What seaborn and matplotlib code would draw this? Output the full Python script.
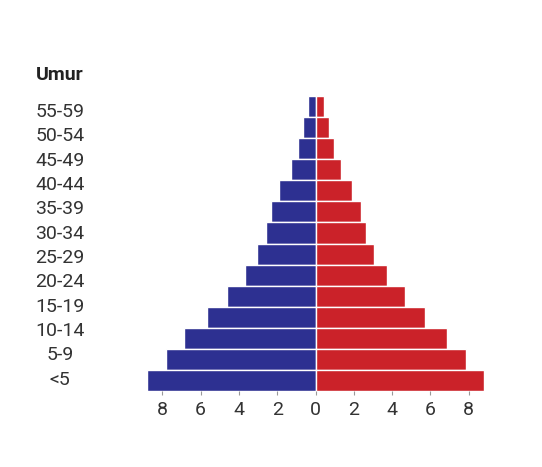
import numpy as np
import pandas as pd
import matplotlib
matplotlib.use('Agg')
import matplotlib.pyplot as plt
import seaborn as sns

# age labels (as printed on the chart, bottom to top)
umur = ['<5', '5-9', '10-14', '15-19', '20-24', '25-29', '30-34',
        '35-39', '40-44', '45-49', '50-54', '55-59']

# bar values, bottom bar first (the chart draws 14 bars)
laki = [8.78, 7.82, 6.85, 5.68, 4.64, 3.68, 3.04,
        2.58, 2.34, 1.89, 1.30, 0.91, 0.65, 0.41]
perempuan = [8.81, 7.86, 6.88, 5.72, 4.69, 3.73, 3.07,
             2.65, 2.39, 1.92, 1.35, 0.98, 0.70, 0.46]

xticks = [-8, -6, -4, -2, 0, 2, 4, 6, 8]

biru = '#2d3091'
merah = '#cb2229'

sns.set_style('white')
plt.rcParams['font.family'] = ['Roboto', 'DejaVu Sans']

n = len(laki)
df = pd.DataFrame({
    'grup': [str(i) for i in range(n)][::-1],
    'laki': [-v for v in laki][::-1],
    'perempuan': perempuan[::-1],
})
order = df['grup'].tolist()

fig = plt.figure(figsize=(5.42, 4.67), dpi=100)
ax = fig.add_axes([146/542, 1-391/467, 339/542, 295/467])

sns.barplot(data=df, y='grup', x='laki', order=order, orient='h',
            color=biru, saturation=1, width=1, edgecolor='white',
            linewidth=1, ax=ax)
sns.barplot(data=df, y='grup', x='perempuan', order=order, orient='h',
            color=merah, saturation=1, width=1, edgecolor='white',
            linewidth=1, ax=ax)

ax.set_xlim(-8.85, 8.85)
ax.set_ylim(n - 0.5, -0.5)
ax.set_xticks(xticks)
ax.set_xticklabels([str(abs(t)) for t in xticks])
ax.tick_params(axis='x', length=3, width=0.8, color='#999999', pad=4,
               labelsize=14, labelcolor='#333333', bottom=True)

# the 12 labels are spread evenly over the bar stack
ax.set_yticks(np.linspace(0.16, 12.86, len(umur)))
ax.set_yticklabels(umur[::-1])
ax.tick_params(axis='y', length=0, pad=62, labelsize=14, labelcolor='#333333')
for lb in ax.get_yticklabels():
    lb.set_horizontalalignment('center')

ax.set_xlabel('')
ax.set_ylabel('')
sns.despine(ax=ax, left=True, bottom=True)

fig.text(60/542, 1-75/467, 'Umur', ha='center', va='center',
         fontsize=14, fontweight='bold', color='#222222')

fig.savefig('out.png', dpi=100)
